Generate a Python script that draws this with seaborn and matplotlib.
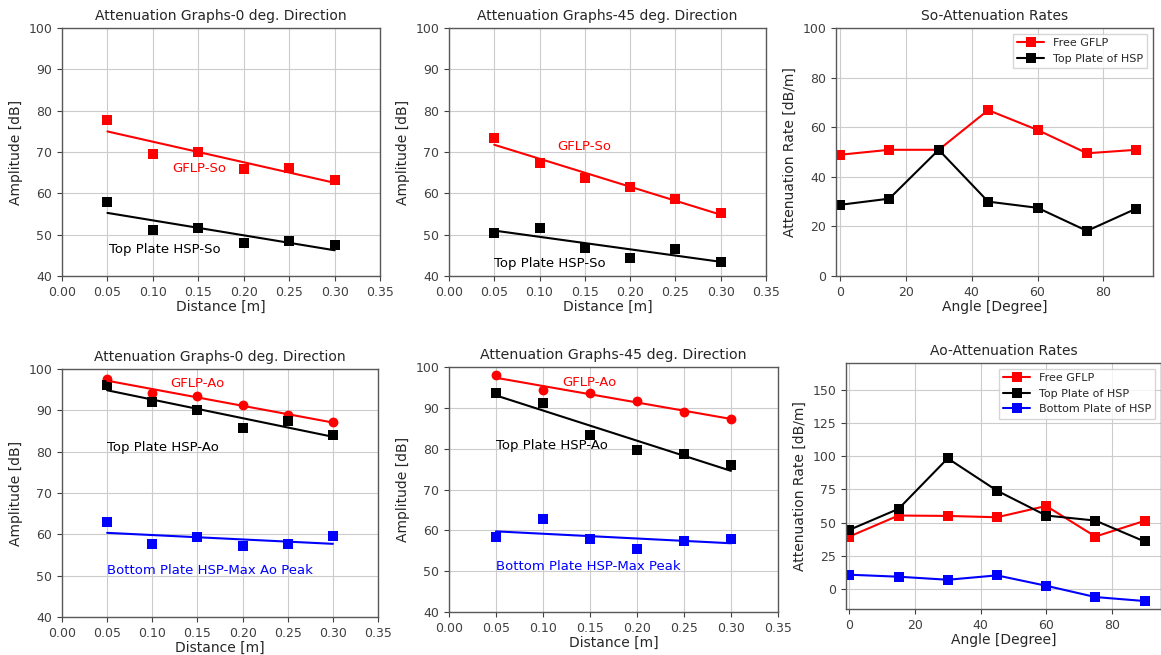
import matplotlib
matplotlib.use("Agg")
import matplotlib.pyplot as plt
import seaborn as sns

# distances [m] and angles [deg]
distance = [0.05, 0.10, 0.15, 0.20, 0.25, 0.30]
angles = [0, 15, 30, 45, 60, 75, 90]

# So mode, 0 deg
so0_gflp = [77.8, 69.5, 70.1, 65.8, 66.1, 63.3]
so0_top = [57.9, 51.1, 51.5, 48.0, 48.5, 47.5]
# So mode, 45 deg
so45_gflp = [73.3, 67.4, 63.6, 61.6, 58.6, 55.3]
so45_top = [50.5, 51.6, 46.8, 44.4, 46.6, 43.4]
# So attenuation rates
so_rate_free = [48.9, 50.9, 50.9, 66.9, 58.9, 49.5, 50.9]
so_rate_top = [28.7, 31.2, 50.9, 30.0, 27.5, 18.2, 27.2]

# Ao mode, 0 deg
ao0_gflp = [97.7, 94.2, 93.4, 91.4, 88.9, 87.1]
ao0_top = [96.2, 92.0, 90.0, 85.7, 87.5, 84.0]
ao0_bottom = [62.9, 57.6, 59.3, 57.2, 57.6, 59.6]
# Ao mode, 45 deg
ao45_gflp = [98.0, 94.3, 93.6, 91.6, 89.1, 87.4]
ao45_top = [93.7, 91.3, 83.3, 79.8, 78.7, 76.1]
ao45_bottom = [58.3, 62.7, 58.0, 55.5, 57.4, 57.9]
# Ao attenuation rates
ao_rate_free = [39.5, 55.3, 55.0, 54.0, 62.5, 39.5, 51.3]
ao_rate_top = [44.5, 60.3, 98.3, 74.0, 55.3, 51.5, 35.8]
ao_rate_bottom = [10.8, 9.3, 7.0, 10.3, 2.5, -6.0, -9.0]

sns.set_style("whitegrid", {"axes.edgecolor": "0.35", "grid.color": "0.8",
                            "xtick.bottom": True, "ytick.left": True})
plt.rcParams["font.family"] = ["DejaVu Sans"]
plt.rcParams["xtick.labelsize"] = 9
plt.rcParams["ytick.labelsize"] = 9
plt.rcParams["xtick.color"] = "0.25"
plt.rcParams["ytick.color"] = "0.25"
plt.rcParams["axes.linewidth"] = 1.0

fig = plt.figure(figsize=(11.61, 6.55), dpi=100)

ax1 = fig.add_axes([0.0534, 0.5786, 0.2739, 0.3786])
ax2 = fig.add_axes([0.3867, 0.5786, 0.2730, 0.3786])
ax3 = fig.add_axes([0.7200, 0.5786, 0.2730, 0.3786])
ax4 = fig.add_axes([0.0534, 0.0580, 0.2722, 0.3786])
ax5 = fig.add_axes([0.3867, 0.0656, 0.2834, 0.3740])
ax6 = fig.add_axes([0.7287, 0.0702, 0.2713, 0.3756])

sq = dict(s=55, linewidths=0, alpha=1)
circ = dict(s=50, linewidths=0, alpha=1)


def fit(ax, y, color, marker, kws):
    sns.regplot(x=distance, y=y, ax=ax, ci=None, color=color, marker=marker,
                scatter_kws=kws, line_kws={"lw": 1.5})


def dist_axes(ax, title):
    ax.set_xlim(0, 0.35)
    ax.set_ylim(40, 100)
    ax.set_xticks([0.0, 0.05, 0.10, 0.15, 0.20, 0.25, 0.30, 0.35])
    ax.set_xticklabels(["0.00", "0.05", "0.10", "0.15", "0.20", "0.25", "0.30", "0.35"])
    ax.set_title(title, fontsize=10)
    ax.set_xlabel("Distance [m]", fontsize=10, labelpad=1)
    ax.set_ylabel("Amplitude [dB]", fontsize=10)
    for s in ax.spines.values():
        s.set_visible(True)


# So, 0 deg
fit(ax1, so0_gflp, "red", "s", sq)
fit(ax1, so0_top, "black", "s", sq)
ax1.text(0.121, 66.1, "GFLP-So", color="red", fontsize=9.5, va="center")
ax1.text(0.052, 46.3, "Top Plate HSP-So", color="black", fontsize=9.5, va="center")
dist_axes(ax1, "Attenuation Graphs-0 deg. Direction")

# So, 45 deg
fit(ax2, so45_gflp, "red", "s", sq)
fit(ax2, so45_top, "black", "s", sq)
ax2.text(0.12, 71.3, "GFLP-So", color="red", fontsize=9.5, va="center")
ax2.text(0.05, 43.1, "Top Plate HSP-So", color="black", fontsize=9.5, va="center")
dist_axes(ax2, "Attenuation Graphs-45 deg. Direction")

# So rates
sns.lineplot(x=angles, y=so_rate_free, ax=ax3, color="red", marker="s",
             markersize=7, markeredgewidth=0, lw=1.5, label="Free GFLP")
sns.lineplot(x=angles, y=so_rate_top, ax=ax3, color="black", marker="s",
             markersize=7, markeredgewidth=0, lw=1.5, label="Top Plate of HSP")
ax3.set_xlim(-1.2, 95)
ax3.set_ylim(0, 100)
ax3.set_xticks([0, 20, 40, 60, 80])
ax3.set_title("So-Attenuation Rates", fontsize=10)
ax3.set_xlabel("Angle [Degree]", fontsize=10, labelpad=1)
ax3.set_ylabel("Attenuation Rate [dB/m]", fontsize=10)
ax3.legend(loc="upper right", fontsize=8, frameon=True, edgecolor="0.8",
           fancybox=False, handlelength=2.4)
for s in ax3.spines.values():
    s.set_visible(True)

# Ao, 0 deg
fit(ax4, ao0_gflp, "red", "o", circ)
fit(ax4, ao0_top, "black", "s", sq)
fit(ax4, ao0_bottom, "blue", "s", sq)
ax4.text(0.12, 96.6, "GFLP-Ao", color="red", fontsize=9.5, va="center")
ax4.text(0.05, 81.1, "Top Plate HSP-Ao", color="black", fontsize=9.5, va="center")
ax4.text(0.05, 51.2, "Bottom Plate HSP-Max Ao Peak", color="blue", fontsize=9.5, va="center")
dist_axes(ax4, "Attenuation Graphs-0 deg. Direction")

# Ao, 45 deg
fit(ax5, ao45_gflp, "red", "o", circ)
fit(ax5, ao45_top, "black", "s", sq)
fit(ax5, ao45_bottom, "blue", "s", sq)
ax5.text(0.12, 96.3, "GFLP-Ao", color="red", fontsize=9.5, va="center")
ax5.text(0.05, 80.8, "Top Plate HSP-Ao", color="black", fontsize=9.5, va="center")
ax5.text(0.05, 51.2, "Bottom Plate HSP-Max Peak", color="blue", fontsize=9.5, va="center")
dist_axes(ax5, "Attenuation Graphs-45 deg. Direction")
ax5.title.set_fontsize(10.2)

# Ao rates
sns.lineplot(x=angles, y=ao_rate_free, ax=ax6, color="red", marker="s",
             markersize=7, markeredgewidth=0, lw=1.5, label="Free GFLP")
sns.lineplot(x=angles, y=ao_rate_top, ax=ax6, color="black", marker="s",
             markersize=7, markeredgewidth=0, lw=1.5, label="Top Plate of HSP")
sns.lineplot(x=angles, y=ao_rate_bottom, ax=ax6, color="blue", marker="s",
             markersize=7, markeredgewidth=0, lw=1.5, label="Bottom Plate of HSP")
ax6.set_xlim(-1, 95)
ax6.set_ylim(-15, 170)
ax6.set_xticks([0, 20, 40, 60, 80])
ax6.set_yticks([0, 25, 50, 75, 100, 125, 150])
ax6.set_title("Ao-Attenuation Rates", fontsize=10)
ax6.set_xlabel("Angle [Degree]", fontsize=10, labelpad=1)
ax6.set_ylabel("Attenuation Rate [dB/m]", fontsize=10)
ax6.legend(loc="upper right", fontsize=8, frameon=True, edgecolor="0.8",
           fancybox=False, handlelength=2.4)
for s in ax6.spines.values():
    s.set_visible(True)

fig.savefig("out.png", dpi=100)
